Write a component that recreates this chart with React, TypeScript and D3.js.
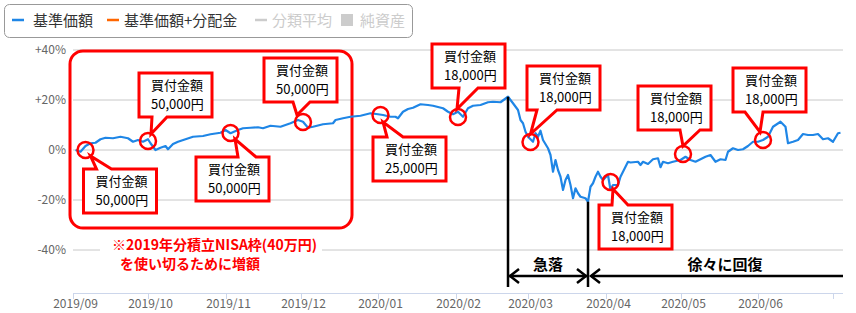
import React from "react";
import * as d3 from "d3";

// ---- data ----
const dates = [
  "2019-09-02","2019-09-04","2019-09-06","2019-09-08","2019-09-10","2019-09-12","2019-09-14","2019-09-17","2019-09-20","2019-09-23","2019-09-25","2019-09-27","2019-09-29",
  "2019-10-01","2019-10-02","2019-10-04","2019-10-06","2019-10-08","2019-10-09","2019-10-11","2019-10-13","2019-10-16","2019-10-19","2019-10-23","2019-10-26","2019-10-30",
  "2019-11-01","2019-11-03","2019-11-06","2019-11-08","2019-11-11","2019-11-14","2019-11-16","2019-11-19","2019-11-23","2019-11-27","2019-11-30",
  "2019-12-02","2019-12-04","2019-12-06","2019-12-10","2019-12-14","2019-12-15","2019-12-18","2019-12-21","2019-12-25","2019-12-29",
  "2020-01-01","2020-01-03","2020-01-06","2020-01-08","2020-01-09","2020-01-11","2020-01-13","2020-01-15","2020-01-18","2020-01-21","2020-01-23","2020-01-27","2020-01-29","2020-01-31",
  "2020-02-02","2020-02-04","2020-02-06","2020-02-08","2020-02-11","2020-02-14","2020-02-16","2020-02-19","2020-02-22","2020-02-24","2020-02-26","2020-02-27","2020-02-28","2020-02-29",
  "2020-03-01","2020-03-03","2020-03-04","2020-03-05","2020-03-06","2020-03-07","2020-03-09","2020-03-10","2020-03-11","2020-03-12","2020-03-13","2020-03-14","2020-03-15","2020-03-16","2020-03-17","2020-03-18","2020-03-19","2020-03-20","2020-03-21","2020-03-22","2020-03-23","2020-03-24","2020-03-25","2020-03-26","2020-03-27","2020-03-28","2020-03-29","2020-03-30","2020-03-31",
  "2020-04-02","2020-04-03","2020-04-04","2020-04-06","2020-04-07","2020-04-08","2020-04-10","2020-04-11","2020-04-14","2020-04-15","2020-04-16","2020-04-18","2020-04-20","2020-04-22","2020-04-23","2020-04-24","2020-04-26","2020-04-28",
  "2020-05-01","2020-05-03","2020-05-05","2020-05-07","2020-05-09","2020-05-11","2020-05-13","2020-05-15","2020-05-17","2020-05-19","2020-05-20","2020-05-22","2020-05-24","2020-05-26","2020-05-28","2020-05-30",
  "2020-06-01","2020-06-03","2020-06-05","2020-06-07","2020-06-10","2020-06-12","2020-06-13","2020-06-15","2020-06-17","2020-06-19","2020-06-21","2020-06-23","2020-06-25","2020-06-27","2020-06-29",
  "2020-07-01","2020-07-03","2020-07-04",
];
const values = [
  0.0,-0.7,1.6,2.7,2.9,4.3,4.9,4.7,5.3,4.7,3.3,4.0,3.3,
  4.3,2.7,0.0,0.9,1.6,0.3,2.4,3.3,4.3,5.3,5.6,6.3,6.9,
  8.0,6.7,8.0,8.7,8.9,9.1,8.7,9.7,9.3,10.7,12.0,
  11.3,8.9,9.3,10.3,10.7,12.0,12.7,13.3,13.7,14.7,
  14.3,14.0,13.3,13.3,12.7,15.3,16.4,16.9,18.3,18.0,17.7,16.7,15.3,14.3,
  15.3,13.3,16.7,17.7,18.0,19.1,19.3,19.1,21.3,18.7,16.0,12.0,10.7,7.3,
  5.3,3.3,6.7,5.3,7.7,4.0,0.7,-2.0,-8.7,-4.0,-8.0,-10.7,-16.0,-12.0,-10.0,-14.0,-19.3,-15.3,-17.3,-18.7,-19.0,-19.3,-20.7,-14.7,-13.3,-10.7,-8.7,-10.7,-12.0,
  -10.0,-16.0,-14.0,-14.0,-10.7,-8.7,-4.7,-5.0,-4.7,-6.0,-4.7,-5.6,-3.7,-3.3,-6.9,-4.7,-5.3,-4.7,
  -4.0,-2.7,-4.0,-4.7,-3.7,-2.7,-2.0,-4.7,-3.7,-4.0,-0.7,0.7,0.0,0.3,1.6,3.3,
  3.3,4.0,5.3,9.3,11.3,9.3,2.7,3.3,4.0,6.4,6.0,6.0,6.4,4.3,4.7,
  3.3,6.7,6.9,
];

const yTicks = [40, 20, 0, -20, -40];
const yTickLabels = ["+40%", "+20%", "0%", "-20%", "-40%"];
const monthTicks = ["2019-09-01","2019-10-01","2019-11-01","2019-12-01","2020-01-01","2020-02-01","2020-03-01","2020-04-01","2020-05-01","2020-06-01","2020-07-01"];
const monthLabels = ["2019/09","2019/10","2019/11","2019/12","2020/01","2020/02","2020/03","2020/04","2020/05","2020/06",""];

const purchaseDates = ["2019-09-06","2019-10-01","2019-11-03","2019-12-02","2020-01-02","2020-02-02","2020-03-02","2020-04-03","2020-05-02","2020-06-03"];
const purchaseValues = [0, 3.6, 6.8, 11.2, 14, 13.2, 3.2, -12.8, -1.6, 4];
const purchaseAmounts = ["50,000円","50,000円","50,000円","50,000円","25,000円","18,000円","18,000円","18,000円","18,000円","18,000円"];

const legendLabels = ["基準価額", "基準価額+分配金", "分類平均", "純資産"];
const noteLines = ["※2019年分積立NISA枠(40万円)", "を使い切るために増額"];
const phaseLabels = ["急落", "徐々に回復"];
const phaseDates = ["2020-02-22", "2020-03-25"];

// ---- layout (not data) ----
// box offset relative to circle centre, side of tail, tail base (relative to box left), tip relative to circle centre
const calloutLayout = [
  { dx: -2, dy: 19, side: "top", b1: 13, b2: 28, tx: 5, ty: 6 },
  { dx: -9, dy: -68, side: "bottom", b1: 13, b2: 28, tx: 3, ty: -7 },
  { dx: -34.5, dy: 24, side: "top", b1: 42, b2: 60, tx: 4.5, ty: 6 },
  { dx: -39, dy: -64, side: "bottom", b1: 29, b2: 46, tx: -6, ty: -7 },
  { dx: -7.5, dy: 22, side: "top", b1: 14, b2: 30, tx: 2.5, ty: 7 },
  { dx: -26, dy: -73, side: "bottom", b1: 27, b2: 46, tx: -1, ty: -8 },
  { dx: -3.5, dy: -76, side: "bottom", b1: 10, b2: 30, tx: 0, ty: -8 },
  { dx: -11.5, dy: 23, side: "top", b1: 13, b2: 29, tx: 2.5, ty: 7 },
  { dx: -45, dy: -68, side: "bottom", b1: 42, b2: 62, tx: 0, ty: -8 },
  { dx: -30, dy: -72, side: "bottom", b1: 12, b2: 30, tx: -3, ty: -8 },
];

const W = 856, H = 313;
const FONT = "'Noto Sans CJK JP', 'Noto Sans', sans-serif";
const RED = "#ff0000";
const BLUE = "#1f86e6";

const parse = d3.utcParse("%Y-%m-%d");

function calloutPath(bx: number, by: number, w: number, h: number, side: string, b1: number, b2: number, tipX: number, tipY: number) {
  const r = bx + w, b = by + h;
  if (side === "top") {
    return `M${bx},${by} L${bx + b1},${by} L${tipX},${tipY} L${bx + b2},${by} L${r},${by} L${r},${b} L${bx},${b} Z`;
  }
  return `M${bx},${by} L${r},${by} L${r},${b} L${bx + b2},${b} L${tipX},${tipY} L${bx + b1},${b} L${bx},${b} Z`;
}

export default function App() {
  const x = d3.scaleUtc().domain([parse("2019-09-01")!, parse("2020-07-05")!]).range([73, 843]);
  const y = d3.scaleLinear().domain([-57.2, 40]).range([293, 50]);
  const pts = dates.map((d, i) => [parse(d)!, values[i]] as [Date, number]);
  const line = d3.line<[Date, number]>().x((d) => x(d[0])).y((d) => y(d[1]));

  const x0 = x.range()[0], x1 = x.range()[1];
  const axisY = y.range()[0];

  const v1 = x(parse(phaseDates[0])!);
  const v2 = x(parse(phaseDates[1])!);
  const peakV = values[dates.indexOf(phaseDates[0])];
  const lowV = values[dates.indexOf(phaseDates[1])];
  const arrowY = 276, vBottom = 287;

  const chevron = (px: number, dir: number) =>
    `M${px + dir * 9},${arrowY - 7} L${px},${arrowY} L${px + dir * 9},${arrowY + 7}`;

  return (
    <svg width={W} height={H} style={{ position: "absolute", left: 0, top: 0, background: "#fff" }} fontFamily={FONT}>
      <rect x={0} y={0} width={W} height={H} fill="#fff" />
      {/* legend */}
      <rect x={4.5} y={4.5} width={408} height={33} rx={5} fill="#fff" stroke="#999" />
      <line x1={12} x2={24} y1={20} y2={20} stroke={BLUE} strokeWidth={2.5} />
      <text x={33} y={26} fontSize={15} fill="#333">{legendLabels[0]}</text>
      <line x1={107} x2={119} y1={20} y2={20} stroke="#ff6600" strokeWidth={2.5} />
      <text x={124} y={26} fontSize={15} fill="#333">{legendLabels[1]}</text>
      <line x1={255} x2={267} y1={20} y2={20} stroke="#ccc" strokeWidth={2.5} />
      <text x={272} y={26} fontSize={15} fill="#ccc">{legendLabels[2]}</text>
      <rect x={341} y={14} width={12} height={12} fill="#ccc" />
      <text x={360} y={26} fontSize={15} fill="#ccc">{legendLabels[3]}</text>

      {/* grid + y labels */}
      {yTicks.map((t, i) => (
        <g key={t}>
          <line x1={x0} x2={x1} y1={y(t)} y2={y(t)} stroke="#c8c8c8" strokeWidth={1} />
          <text x={66} y={y(t) + 4} fontSize={12} fill="#666" textAnchor="end">{yTickLabels[i]}</text>
        </g>
      ))}
      {/* x axis */}
      <line x1={x0} x2={x1} y1={axisY + 0.5} y2={axisY + 0.5} stroke="#ccd6eb" strokeWidth={1} />
      {monthTicks.map((m, i) => {
        const px = Math.round(x(parse(m)!)) + 0.5;
        return (
          <g key={m}>
            <line x1={px} x2={px} y1={axisY} y2={axisY + 6} stroke="#ccd6eb" />
            <text x={px + 2} y={308} fontSize={12} fill="#666" textAnchor="middle">{monthLabels[i]}</text>
          </g>
        );
      })}

      {/* big rounded frame */}
      <rect x={70} y={51} width={282} height={177} rx={13} fill="none" stroke={RED} strokeWidth={3} />

      {/* series */}
      <path d={line(pts) || ""} fill="none" stroke={BLUE} strokeWidth={2.2} strokeLinejoin="round" />

      {/* note */}
      <rect x={100} y={243} width={222} height={14} fill="#fff" />
      <text x={112} y={250} fontSize={14} fontWeight="bold" fill={RED}>{noteLines[0]}</text>
      <text x={120} y={269} fontSize={14} fontWeight="bold" fill={RED}>{noteLines[1]}</text>

      {/* phase annotations */}
      <g stroke="#000" strokeWidth={2.5} fill="none">
        <line x1={v1} x2={v1} y1={y(peakV)} y2={vBottom} />
        <line x1={v2} x2={v2} y1={y(lowV)} y2={vBottom} />
        <line x1={v1 + 1} x2={v2 - 1} y1={arrowY} y2={arrowY} />
        <path d={chevron(v1 + 2, 1)} />
        <path d={chevron(v2 - 2, -1)} />
        <line x1={v2 + 3} x2={x1} y1={arrowY} y2={arrowY} />
        <path d={chevron(v2 + 3, 1)} />
      </g>
      <text x={(v1 + v2) / 2} y={270} fontSize={15} fontWeight="bold" textAnchor="middle" fill="#000">{phaseLabels[0]}</text>
      <text x={725} y={270} fontSize={15} fontWeight="bold" textAnchor="middle" fill="#000">{phaseLabels[1]}</text>

      {/* purchase markers and callouts */}
      {purchaseDates.map((d, i) => {
        const cx = x(parse(d)!);
        const cy = y(purchaseValues[i]);
        const L = calloutLayout[i];
        const bx = cx + L.dx, by = cy + L.dy;
        return (
          <g key={d}>
            <circle cx={cx} cy={cy} r={8} fill="none" stroke={RED} strokeWidth={2.5} />
            <path d={calloutPath(bx, by, 73, 44, L.side, L.b1, L.b2, cx + L.tx, cy + L.ty)} fill="#fff" stroke={RED} strokeWidth={3} strokeLinejoin="miter" />
            <text x={bx + 12} y={by + 17} fontSize={13} fill="#000">買付金額</text>
            <text x={bx + 12} y={by + 36} fontSize={13} fill="#000">{purchaseAmounts[i]}</text>
          </g>
        );
      })}
    </svg>
  );
}
